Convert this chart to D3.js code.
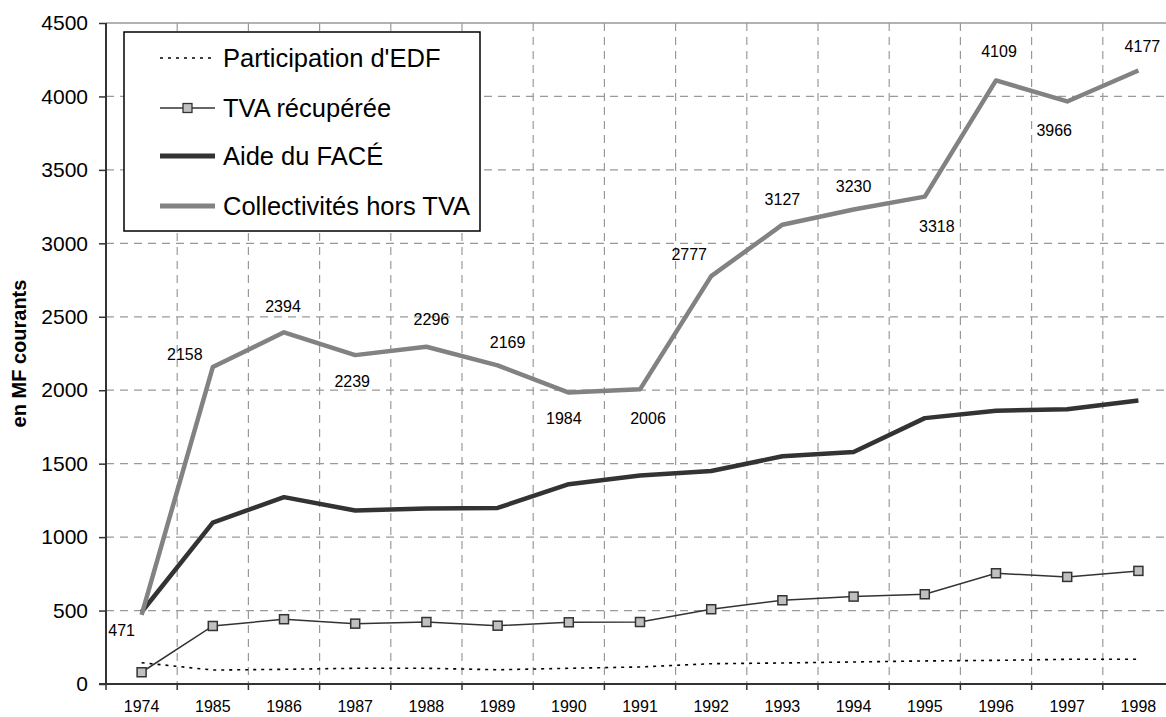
<!DOCTYPE html>
<html><head><meta charset="utf-8">
<script src="https://cdn.jsdelivr.net/npm/d3@7"></script>
<style>body{margin:0;background:#fff}svg{display:block;font-family:"Liberation Sans",Arial,sans-serif}</style>
</head><body><svg id="c" width="1166" height="717"></svg>
<script>
const years = ["1974","1985","1986","1987","1988","1989","1990","1991","1992","1993","1994","1995","1996","1997","1998"];
const edf = [145,95,100,107,107,97,107,116,138,143,150,157,161,168,168];
const tva = [80,395,441,411,422,397,420,422,509,570,595,611,754,729,770];
const aide = [490,1099,1272,1181,1194,1199,1360,1420,1450,1550,1580,1810,1860,1870,1930];
const collectivites = [471,2158,2394,2239,2296,2169,1984,2006,2777,3127,3230,3318,4109,3966,4177];
const yTicks = [0,500,1000,1500,2000,2500,3000,3500,4000,4500];
const seriesNames = ["Participation d'EDF","TVA récupérée","Aide du FACÉ","Collectivités hors TVA"];
const yTitle = "en MF courants";
// label offsets (dx, dy) relative to each Collectivités point
const labelDx = [-20,-28,-1,-3,5,10,-5,8,-22,0,0,12,3,-13,4];
const labelDy = [16,-13,-26,26,-27,-23,26,29,-22,-25,-23,30,-29,29,-24];

(function(){
const svg = d3.select("#c");
const mLeft = 106, mTop = 23, mBottom = 684, bw = 71.2;
const x = d3.scaleBand().domain(years).range([mLeft, mLeft + bw*years.length]);
const y = d3.scaleLinear().domain([0,4500]).range([mBottom, mTop]);
const cx = d => x(d) + x.bandwidth()/2;

svg.append("line").attr("x1",mLeft).attr("x2",1166).attr("y1",mTop).attr("y2",mTop).attr("stroke","#999").attr("stroke-width",1.5);
svg.append("g").selectAll("line").data(yTicks.filter(v=>v>0 && v<4500)).join("line")
  .attr("x1",mLeft).attr("x2",1166).attr("y1",d=>y(d)).attr("y2",d=>y(d))
  .attr("stroke","#999").attr("stroke-width",1.2).attr("stroke-dasharray","8,6");
svg.append("g").selectAll("line").data(years.slice(1)).join("line")
  .attr("x1",d=>x(d)).attr("x2",d=>x(d)).attr("y1",mTop).attr("y2",mBottom)
  .attr("stroke","#999").attr("stroke-width",1.2).attr("stroke-dasharray","8,6");

const yAxis = svg.append("g").attr("transform",`translate(${mLeft},0)`)
  .call(d3.axisLeft(y).tickValues(yTicks).tickSize(7).tickPadding(11).tickFormat(d3.format("d")));
yAxis.select(".domain").attr("stroke","#333").attr("stroke-width",2).attr("d",`M0,${mTop}V${mBottom}`);
yAxis.selectAll(".tick line").attr("stroke","#333").attr("stroke-width",1.5);
yAxis.selectAll("text").attr("font-size",21).attr("fill","#000").attr("font-family","Liberation Sans, Arial");

const xAxis = svg.append("g").attr("transform",`translate(0,${mBottom})`)
  .call(d3.axisBottom(x).tickSize(0).tickPadding(17));
xAxis.select(".domain").attr("stroke","#333").attr("stroke-width",2).attr("d",`M${mLeft-7},0H1166`);
xAxis.selectAll("text").attr("font-size",16).attr("fill","#000").attr("font-family","Liberation Sans, Arial");
svg.append("g").selectAll("line").data(years).join("line")
  .attr("x1",d=>x(d)).attr("x2",d=>x(d)).attr("y1",mBottom).attr("y2",mBottom+6)
  .attr("stroke","#333").attr("stroke-width",1.5);

svg.append("text").attr("transform",`translate(19,${(mTop+mBottom)/2}) rotate(-90)`)
  .attr("text-anchor","middle").attr("dominant-baseline","central")
  .attr("font-size",20).attr("font-weight","bold").text(yTitle);

const line = d3.line().x((d,i)=>cx(years[i])).y(d=>y(d));
svg.append("path").datum(edf).attr("d",line).attr("fill","none").attr("stroke","#000").attr("stroke-width",1.6).attr("stroke-dasharray","3,5");
svg.append("path").datum(aide).attr("d",line).attr("fill","none").attr("stroke","#333").attr("stroke-width",4.5).attr("stroke-linejoin","round");
svg.append("path").datum(collectivites).attr("d",line).attr("fill","none").attr("stroke","#828282").attr("stroke-width",4.5).attr("stroke-linejoin","round");
svg.append("path").datum(tva).attr("d",line).attr("fill","none").attr("stroke","#333").attr("stroke-width",1.5);
svg.append("g").selectAll("rect").data(tva).join("rect")
  .attr("x",(d,i)=>cx(years[i])-4.5).attr("y",d=>y(d)-4.5).attr("width",9).attr("height",9)
  .attr("fill","#c0c0c0").attr("stroke","#333").attr("stroke-width",1.5);

svg.append("g").selectAll("text").data(collectivites).join("text")
  .attr("x",(d,i)=>cx(years[i])+labelDx[i]).attr("y",(d,i)=>y(d)+labelDy[i])
  .attr("text-anchor","middle").attr("dominant-baseline","central")
  .attr("font-size",16).attr("fill","#000").text(d=>d);

const lg = svg.append("g");
lg.append("rect").attr("x",124).attr("y",32).attr("width",356).attr("height",199).attr("fill","#fff").attr("stroke","#000").attr("stroke-width",1.5);
const ly = [58,108,156,206];
const styles = [
  {stroke:"#000",w:1.6,dash:"3,5"},
  {stroke:"#333",w:1.5,dash:null,marker:true},
  {stroke:"#333",w:5,dash:null},
  {stroke:"#828282",w:5,dash:null}];
seriesNames.forEach((n,i)=>{
  const s = styles[i];
  lg.append("line").attr("x1",160).attr("x2",215).attr("y1",ly[i]).attr("y2",ly[i]).attr("stroke",s.stroke).attr("stroke-width",s.w).attr("stroke-dasharray",s.dash);
  if(s.marker) lg.append("rect").attr("x",183).attr("y",ly[i]-4.5).attr("width",9).attr("height",9).attr("fill","#c0c0c0").attr("stroke","#333").attr("stroke-width",1.3);
  lg.append("text").attr("x",223).attr("y",ly[i]).attr("dominant-baseline","central").attr("font-size",25.5).text(n);
});
})();
</script></body></html>
